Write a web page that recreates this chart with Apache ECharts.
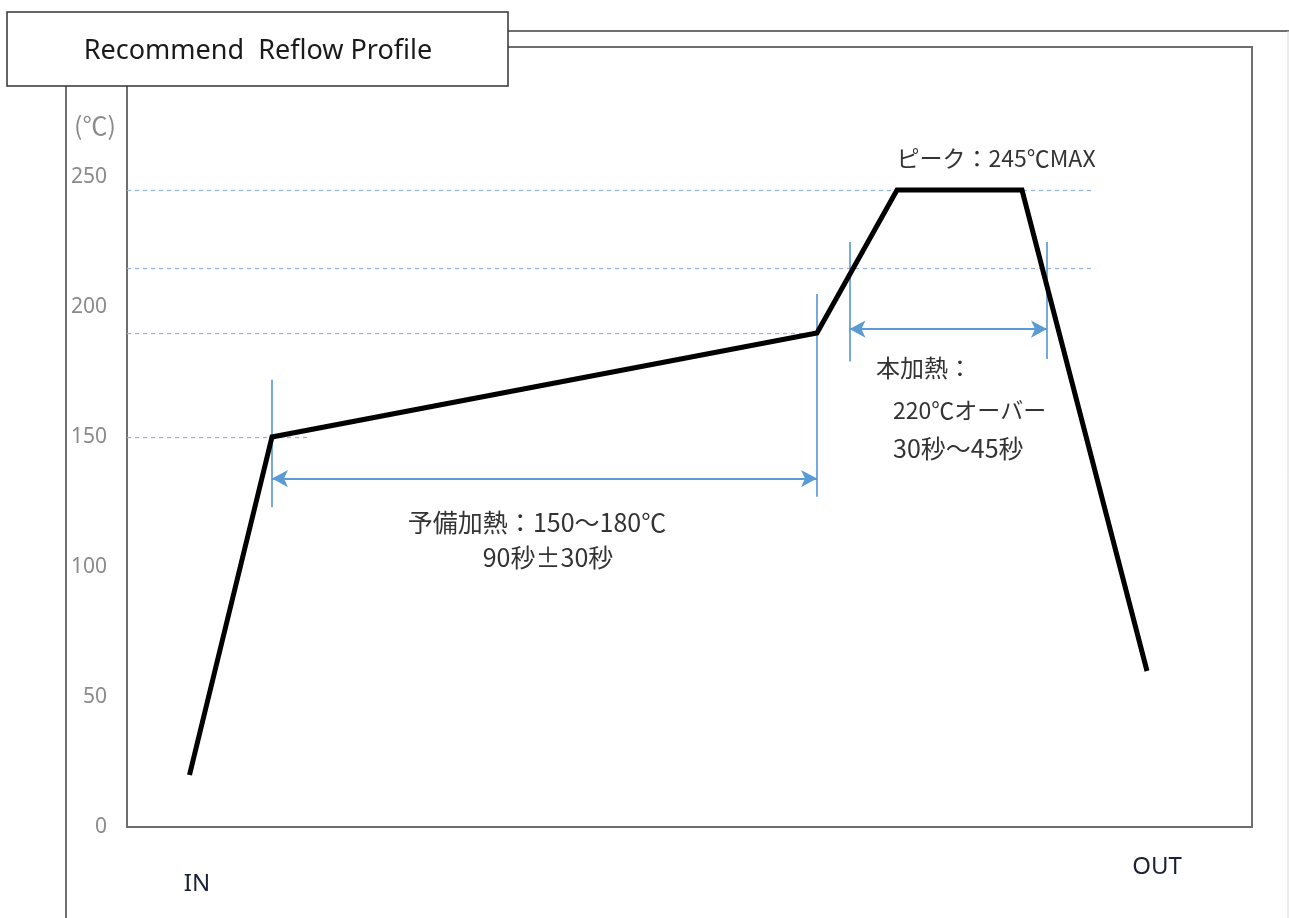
<!DOCTYPE html>
<html>
<head>
<meta charset="utf-8">
<script src="https://cdn.jsdelivr.net/npm/echarts@6/dist/echarts.min.js"></script>
<style>
html,body{margin:0;padding:0;background:#fff;}
#chart{width:1289px;height:918px;}
</style>
</head>
<body>
<div id="chart"></div>
<script>
// ---- data ----
const profileTime = [25, 58, 276, 308, 358, 408];
const profileTemp = [20, 150, 190, 245, 245, 60];
const yTickLabels = ['0', '50', '100', '150', '200', '250'];
const guideTemps = [150, 190, 215, 245];
const guideEndTimes = [72, 276, 386, 386];
const markerTimes = [58, 276, 289, 368];
const markerLow = [123, 127, 179, 180];
const markerHigh = [172, 205, 225, 225];
const arrowStart = [58, 289];
const arrowEnd = [276, 368];
const arrowTemp = [134, 191.5];

const chart = echarts.init(document.getElementById('chart'));
const CJK = '"Noto Sans CJK JP", "Noto Sans", sans-serif';

const guideLines = guideTemps.map((t, i) => [
  { coord: [0, t] }, { coord: [guideEndTimes[i], t] }
]);
const markerLines = markerTimes.map((x, i) => [
  { coord: [x, markerLow[i]] }, { coord: [x, markerHigh[i]] }
]);
const arrowLines = arrowStart.map((x, i) => [
  { coord: [x, arrowTemp[i]] }, { coord: [arrowEnd[i], arrowTemp[i]] }
]);

const option = {
  backgroundColor: '#fff',
  animation: false,
  grid: {
    left: 127, right: 37, top: 47, bottom: 91,
    show: true, borderColor: '#6e6e6e', borderWidth: 2, backgroundColor: 'transparent'
  },
  xAxis: {
    type: 'value', min: 0, max: 450,
    axisLine: { show: false }, axisTick: { show: false },
    axisLabel: { show: false }, splitLine: { show: false }
  },
  yAxis: {
    type: 'value', min: 0, max: 300, interval: 50,
    axisLine: { show: false }, axisTick: { show: false }, splitLine: { show: false },
    axisLabel: {
      margin: 20, color: '#8a8a8a', fontSize: 21, fontFamily: '"Noto Sans", sans-serif',
      formatter: v => yTickLabels[v / 50] !== undefined ? yTickLabels[v / 50] : ''
    }
  },
  series: [
    {
      type: 'line', silent: true, z: 5,
      data: profileTime.map((x, i) => [x, profileTemp[i]]),
      symbol: 'none',
      lineStyle: { color: '#000', width: 5, join: 'miter' }
    },
    {
      type: 'line', data: [], silent: true, z: 3,
      markLine: {
        silent: true, symbol: ['none', 'none'], animation: false,
        label: { show: false },
        lineStyle: { color: '#8db3dc', width: 1.2, type: [4, 4] },
        emphasis: { disabled: true },
        data: guideLines
      }
    },
    {
      type: 'line', data: [], silent: true, z: 4,
      markLine: {
        silent: true, symbol: ['none', 'none'], animation: false,
        label: { show: false },
        lineStyle: { color: '#6a9fd6', width: 1.8, type: 'solid' },
        emphasis: { disabled: true },
        data: markerLines
      }
    },
    {
      type: 'line', data: [], silent: true, z: 4,
      markLine: {
        silent: true, symbol: ['arrow', 'arrow'], symbolSize: [13, 16], animation: false,
        label: { show: false },
        lineStyle: { color: '#5b9bd5', width: 2, type: 'solid' },
        itemStyle: { color: '#5b9bd5' },
        emphasis: { disabled: true },
        data: arrowLines
      }
    }
  ],
  graphic: [
    // outer frame lines
    { type: 'line', z: 1, shape: { x1: 508, y1: 31, x2: 1289, y2: 31 }, style: { stroke: '#707070', lineWidth: 2 } },
    { type: 'line', z: 1, shape: { x1: 66, y1: 86, x2: 66, y2: 918 }, style: { stroke: '#707070', lineWidth: 2 } },
    { type: 'line', z: 1, shape: { x1: 1288, y1: 31, x2: 1288, y2: 918 }, style: { stroke: '#d8d8d8', lineWidth: 1 } },
    // title box
    { type: 'rect', z: 100, shape: { x: 7, y: 12, width: 501, height: 74 }, style: { fill: '#fff', stroke: '#333', lineWidth: 1.5 } },
    { type: 'text', z: 101, x: 258, y: 51,
      style: { text: 'Recommend  Reflow Profile', fill: '#1a1a1a', font: '27px "Noto Sans", sans-serif', align: 'center', verticalAlign: 'middle' } },
    // unit
    { type: 'text', z: 101, x: 95, y: 125,
      style: { text: '(℃)', fill: '#8a8a8a', font: '25px ' + CJK, align: 'center', verticalAlign: 'middle' } },
    // annotations
    { type: 'text', z: 101, x: 996, y: 158,
      style: { text: 'ピーク：245℃MAX', fill: '#333', font: '23px ' + CJK, align: 'center', verticalAlign: 'middle' } },
    { type: 'text', z: 101, x: 876, y: 368,
      style: { text: '本加熱：', fill: '#333', font: '24px ' + CJK, align: 'left', verticalAlign: 'middle' } },
    { type: 'text', z: 101, x: 893, y: 410,
      style: { text: '220℃オーバー', fill: '#333', font: '23px ' + CJK, align: 'left', verticalAlign: 'middle' } },
    { type: 'text', z: 101, x: 893, y: 448,
      style: { text: '30秒～45秒', fill: '#333', font: '25px ' + CJK, align: 'left', verticalAlign: 'middle' } },
    { type: 'text', z: 101, x: 537, y: 522,
      style: { text: '予備加熱：150～180℃', fill: '#333', font: '25px ' + CJK, align: 'center', verticalAlign: 'middle' } },
    { type: 'text', z: 101, x: 548, y: 557,
      style: { text: '90秒±30秒', fill: '#333', font: '25px ' + CJK, align: 'center', verticalAlign: 'middle' } },
    { type: 'text', z: 101, x: 197, y: 884,
      style: { text: 'IN', fill: '#1c2235', font: '24px "Noto Sans", sans-serif', align: 'center', verticalAlign: 'middle' } },
    { type: 'text', z: 101, x: 1157, y: 867,
      style: { text: 'OUT', fill: '#1c2235', font: '24px "Noto Sans", sans-serif', align: 'center', verticalAlign: 'middle' } }
  ]
};
chart.setOption(option);
</script>
</body>
</html>
